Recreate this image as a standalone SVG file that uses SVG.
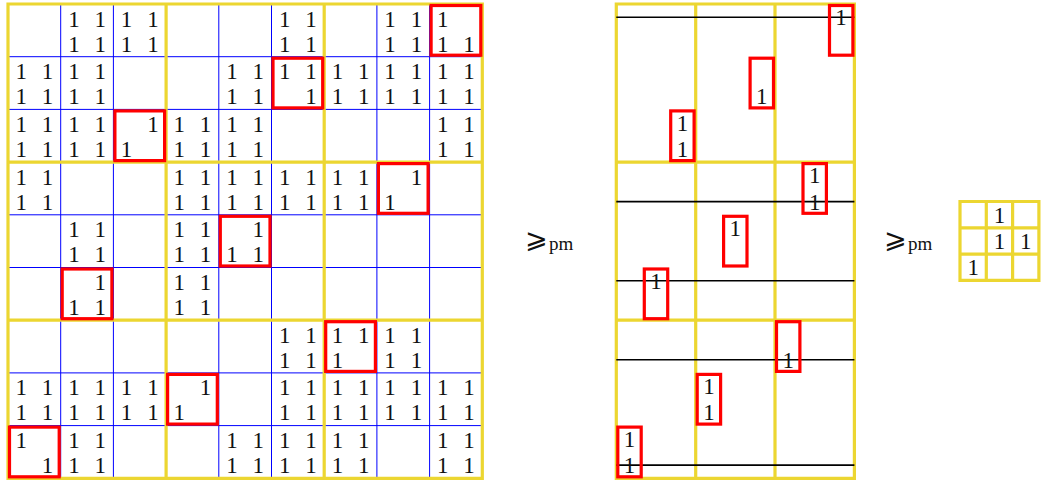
<svg xmlns="http://www.w3.org/2000/svg" width="1044" height="483" viewBox="0 0 1044 483">
<style>
.bg{fill:#ffffff}
.blue{stroke:#0000ff;stroke-width:1;fill:none}
.yel{stroke:#ecd631;stroke-width:3.2;fill:none;stroke-linecap:square}
.red{stroke:#ff0000;stroke-width:3.2;fill:none}
.blk{stroke:#000000;stroke-width:1.6}
.d{font-family:"Liberation Serif",serif;font-size:23px;fill:#111;text-anchor:middle}
.rel{font-family:"DejaVu Sans",sans-serif;font-size:27px;fill:#111}
.sub{font-family:"Liberation Serif",serif;font-size:19px;fill:#111}
</style>
<rect class="bg" x="0" y="0" width="1044" height="483"/>

<g id="matrix-left">
  <path class="blue" d="M60.7 4V478.3M113.4 4V478.3M218.8 4V478.3M271.5 4V478.3M376.9 4V478.3M429.6 4V478.3M8 56.7H482.3M8 109.4H482.3M8 214.8H482.3M8 267.5H482.3M8 372.9H482.3M8 425.6H482.3"/>
  <path class="yel" d="M8 4V478.3M166.1 4V478.3M324.2 4V478.3M482.3 4V478.3M8 4H482.3M8 162.1H482.3M8 320.2H482.3M8 478.3H482.3"/>
  <g class="red">
    <rect x="431.1" y="5.5" width="49.7" height="49.7"/>
    <rect x="273" y="58.2" width="49.7" height="49.7"/>
    <rect x="114.9" y="110.9" width="49.7" height="49.7"/>
    <rect x="378.4" y="163.6" width="49.7" height="49.7"/>
    <rect x="220.3" y="216.3" width="49.7" height="49.7"/>
    <rect x="62.2" y="269" width="49.7" height="49.7"/>
    <rect x="325.7" y="321.7" width="49.7" height="49.7"/>
    <rect x="167.6" y="374.4" width="49.7" height="49.7"/>
    <rect x="9.5" y="427.1" width="49.7" height="49.7"/>
  </g>
  <g class="d">
    <text x="73.9 100.2 126.6 152.9 284.7 311.0 390.1 416.4 442.8" y="26.5">111111111</text>
    <text x="73.9 100.2 126.6 152.9 284.7 311.0 390.1 416.4 442.8 469.1" y="51.5">1111111111</text>
    <text x="21.2 47.5 73.9 100.2 232.0 258.3 284.7 311.0 337.4 363.7 390.1 416.4 442.8 469.1" y="79.2">11111111111111</text>
    <text x="21.2 47.5 73.9 100.2 232.0 258.3 311.0 337.4 363.7 390.1 416.4 442.8 469.1" y="104.2">1111111111111</text>
    <text x="21.2 47.5 73.9 100.2 152.9 179.3 205.6 232.0 258.3 442.8 469.1" y="131.9">11111111111</text>
    <text x="21.2 47.5 73.9 100.2 126.6 179.3 205.6 232.0 258.3 442.8 469.1" y="156.9">11111111111</text>
    <text x="21.2 47.5 179.3 205.6 232.0 258.3 284.7 311.0 337.4 363.7 416.4" y="184.6">11111111111</text>
    <text x="21.2 47.5 179.3 205.6 232.0 258.3 284.7 311.0 337.4 363.7 390.1" y="209.6">11111111111</text>
    <text x="73.9 100.2 179.3 205.6 258.3" y="237.3">11111</text>
    <text x="73.9 100.2 179.3 205.6 232.0 258.3" y="262.3">111111</text>
    <text x="100.2 179.3 205.6" y="290">111</text>
    <text x="73.9 100.2 179.3 205.6" y="315">1111</text>
    <text x="284.7 311.0 337.4 363.7 390.1 416.4" y="342.7">111111</text>
    <text x="284.7 311.0 337.4 390.1 416.4" y="367.7">11111</text>
    <text x="21.2 47.5 73.9 100.2 126.6 152.9 205.6 284.7 311.0 337.4 363.7 390.1 416.4 442.8 469.1" y="395.4">111111111111111</text>
    <text x="21.2 47.5 73.9 100.2 126.6 152.9 179.3 284.7 311.0 337.4 363.7 390.1 416.4 442.8 469.1" y="420.4">111111111111111</text>
    <text x="21.2 73.9 100.2 232.0 258.3 284.7 311.0 337.4 363.7 442.8 469.1" y="448.1">11111111111</text>
    <text x="47.5 73.9 100.2 232.0 258.3 284.7 311.0 337.4 363.7 442.8 469.1" y="473.1">11111111111</text>
  </g>
</g>

<g id="relation-1">
  <text class="rel" x="525" y="248">⩾</text>
  <text class="sub" x="549" y="250">pm</text>
</g>

<g id="matrix-middle">
  <path class="yel" d="M616.3 4V478.3M695.7 4V478.3M775 4V478.3M854.4 4V478.3M616.3 4H854.4M616.3 162.1H854.4M616.3 320.2H854.4M616.3 478.3H854.4"/>
  <path class="blk" d="M616.3 17.2H854.4M616.3 201.6H854.4M616.3 280.7H854.4M616.3 359.7H854.4M616.3 465.1H854.4"/>
  <g class="red">
    <rect x="829.5" y="5.5" width="23.4" height="49.7"/>
    <rect x="750.1" y="58.2" width="23.4" height="49.7"/>
    <rect x="670.7" y="110.9" width="23.4" height="49.7"/>
    <rect x="803" y="163.6" width="23.4" height="49.7"/>
    <rect x="723.6" y="216.3" width="23.4" height="49.7"/>
    <rect x="644.3" y="269" width="23.4" height="49.7"/>
    <rect x="776.5" y="321.7" width="23.4" height="49.7"/>
    <rect x="697.2" y="374.4" width="23.4" height="49.7"/>
    <rect x="617.8" y="427.1" width="23.4" height="49.7"/>
  </g>
  <g class="d">
    <text x="841.1" y="25.2">1</text>
    <text x="761.8" y="104.2">1</text>
    <text x="682.4" y="130.6">1</text>
    <text x="682.4" y="157">1</text>
    <text x="814.7" y="183.3">1</text>
    <text x="814.7" y="209.6">1</text>
    <text x="735.3" y="236">1</text>
    <text x="656" y="288.7">1</text>
    <text x="788.2" y="367.7">1</text>
    <text x="708.9" y="394.1">1</text>
    <text x="708.9" y="420.4">1</text>
    <text x="629.5" y="446.8">1</text>
    <text x="629.5" y="473.1">1</text>
  </g>
</g>

<g id="relation-2">
  <text class="rel" x="884" y="248">⩾</text>
  <text class="sub" x="908" y="250">pm</text>
</g>

<g id="matrix-right">
  <path class="yel" d="M960 201.5V280.4M986.3 201.5V280.4M1012.6 201.5V280.4M1038.9 201.5V280.4M960 201.5H1038.9M960 227.8H1038.9M960 254.1H1038.9M960 280.4H1038.9"/>
  <g class="d">
    <text x="999.5" y="222.7">1</text>
    <text x="999.5" y="249">1</text>
    <text x="1025.8" y="249">1</text>
    <text x="973.2" y="275.3">1</text>
  </g>
</g>
</svg>
